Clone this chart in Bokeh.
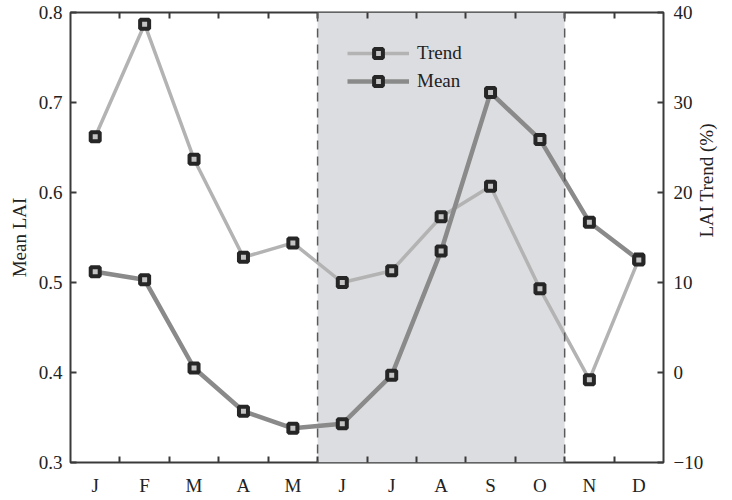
from bokeh.plotting import figure
from bokeh.models import (Range1d, LinearAxis, FixedTicker, BoxAnnotation, Span,
                          Legend, LegendItem, ColumnDataSource)
from bokeh.embed import file_html
from bokeh.resources import INLINE
import math

# ---- data ----
months = ["J", "F", "M", "A", "M", "J", "J", "A", "S", "O", "N", "D"]
month_idx = [1, 2, 3, 4, 5, 6, 7, 8, 9, 10, 11, 12]
mean_lai = [0.512, 0.503, 0.405, 0.357, 0.338, 0.343, 0.397, 0.535, 0.711, 0.659, 0.567, 0.525]
lai_trend = [26.2, 38.7, 23.7, 12.8, 14.4, 10.0, 11.3, 17.3, 20.7, 9.3, -0.8, 12.6]
season_start = 5.5   # growing season (Jun-Oct) boundaries, between months
season_end = 10.5
left_ticks = [0.3, 0.4, 0.5, 0.6, 0.7, 0.8]
right_ticks = [-10, 0, 10, 20, 30, 40]

FONT = "Liberation Serif"
AX = "#3a3a3a"
TREND_C = "#b3b3b3"
MEAN_C = "#8a8a8a"
MK_DARK = "#262626"
MK_LIGHT = "#c4c4c4"

p = figure(width=730, height=498, output_backend="svg", toolbar_location=None,
           x_range=Range1d(0.5, 12.5), y_range=Range1d(0.3, 0.8),
           min_border_left=70, min_border_top=12, min_border_right=58, min_border_bottom=36,
           x_axis_type=None, y_axis_type=None)
p.extra_y_ranges = {"trend": Range1d(-10, 40)}
p.xgrid.visible = False
p.ygrid.visible = False
p.outline_line_color = AX
p.outline_line_width = 2
p.background_fill_color = "white"
p.border_fill_color = "white"

# shading & dashed boundaries
p.add_layout(BoxAnnotation(left=season_start, right=season_end, fill_color="#dcdde0",
                           fill_alpha=1.0, line_color=None, level="underlay"))
for loc in (season_start, season_end):
    p.add_layout(Span(location=loc, dimension="height", line_color="#5a5a5a",
                      line_width=1.5, line_dash="9 7"))

between = [i + 0.5 for i in month_idx[:-1]]

def style_axis(ax):
    ax.axis_line_color = None
    ax.major_tick_line_color = AX
    ax.minor_tick_line_color = AX
    ax.major_tick_line_width = 2
    ax.minor_tick_line_width = 2
    ax.major_label_text_font = FONT
    ax.major_label_text_font_size = "19px"
    ax.major_label_text_color = "#222222"
    ax.axis_label_text_font = FONT
    ax.axis_label_text_font_size = "19px"
    ax.axis_label_text_font_style = "normal"
    ax.axis_label_text_color = "#222222"

xb = LinearAxis(ticker=FixedTicker(ticks=month_idx, minor_ticks=between),
                major_label_overrides={m: s for m, s in zip(month_idx, months)})
style_axis(xb)
xb.major_tick_in = 0
xb.major_tick_out = 0
xb.minor_tick_in = 6
xb.minor_tick_out = 0
xb.major_label_standoff = 12
p.add_layout(xb, "below")

xa = LinearAxis(ticker=FixedTicker(ticks=[], minor_ticks=between))
style_axis(xa)
xa.major_tick_in = 0
xa.major_tick_out = 0
xa.minor_tick_in = 6
xa.minor_tick_out = 0
xa.major_label_standoff = 0
p.add_layout(xa, "above")

yl = LinearAxis(ticker=FixedTicker(ticks=left_ticks, minor_ticks=[]), axis_label="Mean LAI")
style_axis(yl)
yl.major_tick_in = 6
yl.major_tick_out = 0
yl.major_label_standoff = 8
yl.axis_label_standoff = 6
p.add_layout(yl, "left")

# right axis: ticks and tick labels
yr = LinearAxis(y_range_name="trend", ticker=FixedTicker(ticks=right_ticks, minor_ticks=[]),
                major_label_overrides={-10: "\u221210"})
style_axis(yr)
yr.major_tick_in = 6
yr.major_tick_out = 0
yr.major_label_standoff = 10
p.add_layout(yr, "right")

# right axis title (separate tick-less axis so the upward-reading text is centred)
yr_title = LinearAxis(y_range_name="trend", ticker=FixedTicker(ticks=[], minor_ticks=[]),
                      axis_label="LAI Trend (%)", bounds=(-10, 27.2))
style_axis(yr_title)
yr_title.major_tick_in = 0
yr_title.major_tick_out = 0
yr_title.major_label_standoff = 0
yr_title.axis_label_standoff = 0
yr_title.axis_label_orientation = math.pi / 2
p.add_layout(yr_title, "right")

# series
src_t = ColumnDataSource(dict(x=month_idx, y=lai_trend))
src_m = ColumnDataSource(dict(x=month_idx, y=mean_lai))

t_line = p.line("x", "y", source=src_t, y_range_name="trend", line_color=TREND_C, line_width=3.5)
t_mk = p.scatter("x", "y", source=src_t, y_range_name="trend", marker="square", size=9,
                 fill_color=MK_LIGHT, line_color=MK_DARK, line_width=4)

m_line = p.line("x", "y", source=src_m, line_color=MEAN_C, line_width=4.5)
m_mk = p.scatter("x", "y", source=src_m, marker="square", size=9,
                 fill_color=MK_LIGHT, line_color=MK_DARK, line_width=4)

legend = Legend(items=[LegendItem(label="Trend", renderers=[t_line, t_mk]),
                       LegendItem(label="Mean", renderers=[m_line, m_mk])],
                location=(277, 370), orientation="vertical",
                background_fill_alpha=0, border_line_color=None,
                glyph_width=62, glyph_height=22, label_height=22, spacing=6,
                padding=0, margin=0, label_standoff=8,
                label_text_font=FONT, label_text_font_size="19px", label_text_color="#222222")
p.add_layout(legend, "center")

open("out.html", "w").write(file_html(p, INLINE))
